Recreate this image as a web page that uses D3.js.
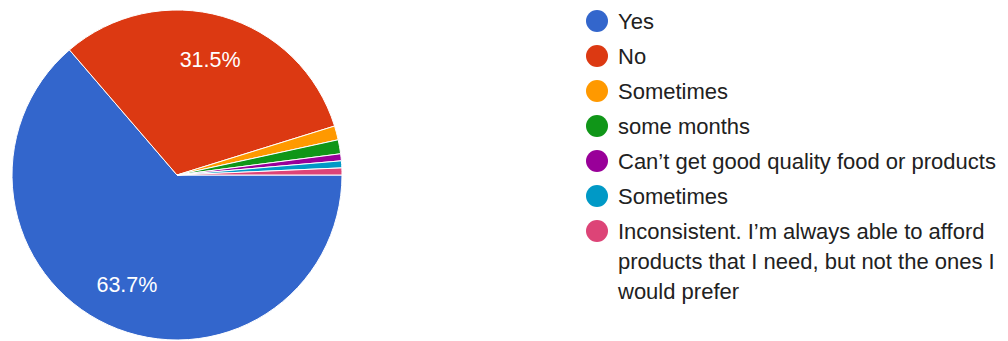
<!DOCTYPE html>
<meta charset="utf-8">
<style>
body { margin: 0; background: #fff; }
svg { display: block; }
.slice-label { font: 21.5px "Liberation Sans", Arial, sans-serif; fill: #fff; }
.legend text { font: 22px "Liberation Sans", Arial, sans-serif; fill: #212121; }
</style>
<body>
<svg id="chart" width="1008" height="341"></svg>
<script src="https://cdn.jsdelivr.net/npm/d3@7"></script>
<script>

// responses (counts)
var categories = ["Yes", "No", "Sometimes", "some months",
  "Can\u2019t get good quality food or products", "Sometimes",
  "Inconsistent. I\u2019m always able to afford products that I need, but not the ones I would prefer"];
var counts = [93, 46, 2, 2, 1, 1, 1];
var colors = ["#3366cc", "#dc3912", "#ff9900", "#109618", "#990099", "#0099c6", "#dd4477"];
// legend lines (long label wraps)
var legendLines = [
  ["Yes"], ["No"], ["Sometimes"], ["some months"],
  ["Can\u2019t get good quality food or products"], ["Sometimes"],
  ["Inconsistent. I\u2019m always able to afford", "products that I need, but not the ones I", "would prefer"]
];

var data = categories.map(function(c, i) { return { label: c, value: counts[i], i: i }; });
var total = d3.sum(counts);

var cx = 177, cy = 175, r = 165;
var svg = d3.select("#chart");

var pie = d3.pie()
    .value(function(d) { return d.value; })
    .sort(null)
    .startAngle(Math.PI / 2)
    .endAngle(Math.PI / 2 + 2 * Math.PI);

var arc = d3.arc().innerRadius(0).outerRadius(r);
var labelArc = d3.arc().innerRadius(120).outerRadius(120);

var g = svg.append("g").attr("transform", "translate(" + cx + "," + cy + ")");

var arcs = pie(data);

g.selectAll("path")
    .data(arcs)
  .enter().append("path")
    .attr("d", arc)
    .attr("fill", function(d) { return colors[d.data.i]; })
    .attr("stroke", "#fff")
    .attr("stroke-width", 1);

g.selectAll("text")
    .data(arcs.filter(function(d) { return d.data.value / total > 0.05; }))
  .enter().append("text")
    .attr("class", "slice-label")
    .attr("text-anchor", "middle")
    .attr("dy", "0.35em")
    .attr("transform", function(d) { return "translate(" + labelArc.centroid(d) + ")"; })
    .text(function(d) { return (d.data.value / total * 100).toFixed(1) + "%"; });

// legend
var legendY = d3.scalePoint().domain(d3.range(categories.length)).range([21, 231]);

var leg = svg.append("g").attr("class", "legend");
var item = leg.selectAll("g")
    .data(data)
  .enter().append("g")
    .attr("transform", function(d) { return "translate(597," + legendY(d.i) + ")"; });

item.append("circle")
    .attr("r", 11)
    .attr("fill", function(d) { return colors[d.i]; });

item.append("text")
    .attr("x", 21)
    .attr("dy", "0.35em")
    .selectAll("tspan")
    .data(function(d) { return legendLines[d.i]; })
  .enter().append("tspan")
    .attr("x", 21)
    .attr("dy", function(l, j) { return j === 0 ? null : 30; })
    .text(function(l) { return l; });

</script>
</body>
